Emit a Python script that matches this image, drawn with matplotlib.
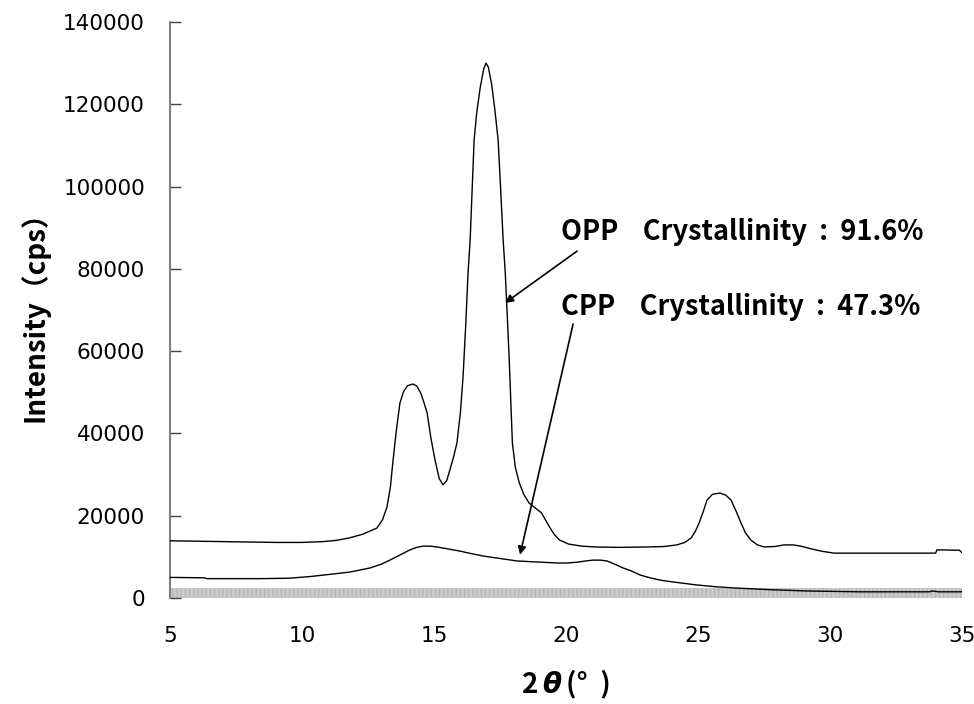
import matplotlib
matplotlib.use("Agg")
import matplotlib.pyplot as plt
from matplotlib.offsetbox import TextArea, HPacker, AnchoredOffsetbox

plt.rcParams['font.family'] = ['Noto Sans CJK JP', 'DejaVu Sans']

# ---- data ----
opp_x = [5.0, 6.0, 7.0, 8.0, 9.0, 10.0, 10.8, 11.3, 11.8, 12.3, 12.84, 13.05, 13.22, 13.35,
         13.45, 13.58, 13.71, 13.85, 14.0, 14.2, 14.35, 14.5, 14.62, 14.74, 14.88, 15.04,
         15.2, 15.34, 15.48, 15.62, 15.75, 15.87, 16.0, 16.1, 16.2, 16.29, 16.37, 16.45,
         16.52, 16.62, 16.75, 16.88, 16.97, 17.06, 17.18, 17.3, 17.43, 17.52, 17.62, 17.7,
         17.78, 17.85, 17.92, 17.97, 18.08, 18.23, 18.4, 18.6, 18.85, 19.07, 19.22, 19.37,
         19.55, 19.75, 20.1, 20.6, 21.1, 22.0, 23.1, 23.7, 24.2, 24.5, 24.74, 24.9, 25.04,
         25.2, 25.34, 25.55, 25.83, 26.05, 26.25, 26.45, 26.63, 26.8, 27.0, 27.25, 27.5,
         27.9, 28.26, 28.6, 28.9, 29.25, 29.65, 30.15, 32.0, 34.0, 34.05, 34.9, 35.0]
opp_y = [13900, 13800, 13700, 13600, 13500, 13500, 13700, 14000, 14600, 15500, 17000, 19000,
         22100, 27000, 33500, 41000, 47400, 50200, 51600, 52000, 51500, 49800, 47500, 45000,
         39000, 33500, 29000, 27500, 28500, 31500, 34500, 37700, 45000, 53700, 66000, 79000,
         87000, 100000, 111300, 118000, 124000, 128500, 130000, 129000, 125000, 119000,
         111300, 100000, 87000, 79000, 68000, 57900, 46000, 37700, 31800, 28000, 25200,
         23100, 21800, 20700, 19000, 17300, 15500, 14100, 13100, 12600, 12400, 12300, 12400,
         12500, 12900, 13500, 14600, 16200, 18200, 21000, 23800, 25200, 25500, 25000, 23800,
         21000, 18200, 15800, 14100, 12900, 12400, 12500, 12900, 12900, 12600, 12000, 11400,
         10900, 10900, 10900, 11700, 11600, 11000]

cpp_x = [5.0, 6.3, 6.4, 8.4, 9.5, 10.3, 11.0, 11.82, 12.58, 13.0, 13.33, 13.7, 14.09, 14.35,
         14.58, 14.85, 15.11, 15.55, 15.98, 16.4, 16.86, 17.5, 18.14, 18.9, 19.66, 20.05,
         20.42, 20.75, 21.02, 21.3, 21.55, 21.85, 22.16, 22.5, 22.8, 23.18, 23.6, 24.05,
         24.9, 25.72, 26.48, 27.8, 29.13, 30.1, 31.14, 33.79, 33.85, 34.1, 35.0]
cpp_y = [5000, 4900, 4700, 4700, 4800, 5200, 5700, 6300, 7300, 8200, 9200, 10400, 11700,
         12300, 12600, 12600, 12400, 11900, 11400, 10800, 10200, 9600, 9000, 8750, 8500,
         8500, 8700, 9000, 9200, 9200, 9000, 8200, 7300, 6500, 5600, 4900, 4300, 3900, 3200,
         2700, 2400, 2000, 1700, 1600, 1500, 1500, 1700, 1500, 1500]

band_x = [5, 35]
band_top = [2400, 2400]

x_ticks = [5, 10, 15, 20, 25, 30, 35]
y_ticks = [0, 20000, 40000, 60000, 80000, 100000, 120000, 140000]

labels = ["OPP    Crystallinity  :  91.6%", "CPP    Crystallinity  :  47.3%"]
label_pos = [(19.8, 89000), (19.8, 70700)]
arrow_from = [(20.42, 84300), (20.27, 66600)]
arrow_to = [(17.69, 71700), (18.26, 10500)]

# ---- figure ----
fig = plt.figure(figsize=(9.74, 7.04), dpi=100)
ax = fig.add_axes([0.1745, 0.1506, 0.8132, 0.8182])

ax.fill_between(band_x, 0, band_top, facecolor='#cbcbcb', edgecolor='#b8b8b8',
                hatch='||||', linewidth=0, zorder=1)
ax.plot(opp_x, opp_y, color='black', lw=1.0, zorder=3)
ax.plot(cpp_x, cpp_y, color='black', lw=1.0, zorder=3)

ax.set_xlim(5, 35)
ax.set_ylim(0, 140000)
ax.set_xticks(x_ticks)
ax.set_yticks(y_ticks)
ax.set_xticklabels([str(v) for v in x_ticks], family='DejaVu Sans')
ax.set_yticklabels([str(v) for v in y_ticks], family='DejaVu Sans')

for s in ['top', 'right', 'bottom']:
    ax.spines[s].set_visible(False)
ax.spines['left'].set_color('#808080')
ax.spines['left'].set_linewidth(1.5)

ax.tick_params(axis='y', direction='in', length=8, width=1, color='#404040',
               labelsize=15.5, pad=18)
ax.tick_params(axis='x', length=0, labelsize=15.5, pad=20)

ax.set_ylabel("Intensity（cps）", fontsize=20, fontweight='bold', labelpad=10)

# x label: 2θ(° ) with italic theta
parts = [TextArea("2", textprops=dict(fontsize=20, fontweight='bold')),
         TextArea("θ", textprops=dict(fontsize=20, fontweight='bold', style='italic',
                                      family='DejaVu Sans')),
         TextArea("(°  )", textprops=dict(fontsize=20, fontweight='bold'))]
box = HPacker(children=parts, align='baseline', pad=0, sep=3)
anch = AnchoredOffsetbox(loc='upper center', child=box, pad=0, frameon=False,
                         bbox_to_anchor=(0.5, -0.125), bbox_transform=ax.transAxes,
                         borderpad=0)
ax.add_artist(anch)

for txt, pos in zip(labels, label_pos):
    ax.text(pos[0], pos[1], txt, fontsize=19.6, fontweight='bold', va='center', ha='left')

for a, b in zip(arrow_from, arrow_to):
    ax.annotate('', xy=b, xytext=a,
                arrowprops=dict(arrowstyle='-|>', color='black', lw=1.2,
                                mutation_scale=12, shrinkA=0, shrinkB=0))

fig.savefig('out.png', dpi=100)
